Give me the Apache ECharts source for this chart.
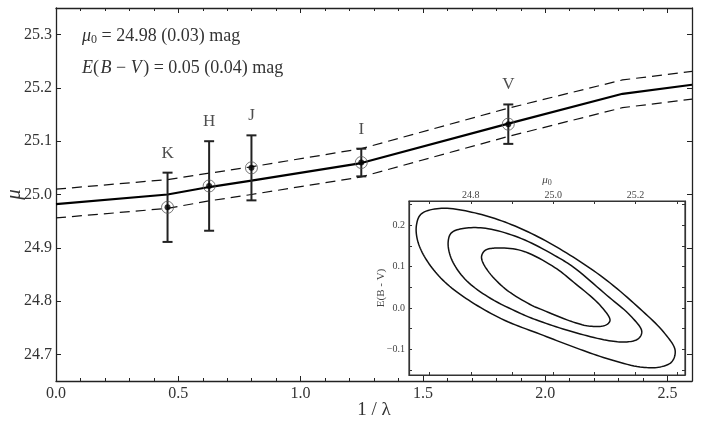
<!DOCTYPE html>
<html>
<head>
<meta charset="utf-8">
<script src="https://cdn.jsdelivr.net/npm/echarts@6/dist/echarts.min.js"></script>
<style>html,body{margin:0;padding:0;background:#fff}#c{width:706px;height:424px}</style>
</head>
<body>
<div id="c"></div>
<script>
// ---- data ----
var bands = ['K', 'H', 'J', 'I', 'V'];
var invLambda = [0.456, 0.626, 0.799, 1.248, 1.849];
var mu = [24.976, 25.016, 25.050, 25.060, 25.132];
var muErr = [0.065, 0.084, 0.061, 0.026, 0.037];

var fitX = [0, 0.456, 0.626, 0.799, 1.248, 1.849, 2.316, 2.6];
var fitMu = [24.982, 25.000, 25.014, 25.026, 25.059, 25.133, 25.189, 25.206];
var fitUpper = [25.010, 25.028, 25.040, 25.052, 25.086, 25.162, 25.215, 25.231];
var fitLower = [24.956, 24.974, 24.988, 25.000, 25.033, 25.109, 25.163, 25.179];

var yTicks = [24.7, 24.8, 24.9, 25.0, 25.1, 25.2, 25.3];

// inset contour curves (mu0, E(B-V)), read around each closed curve
var contourOuter = [[24.668,0.200],[24.680,0.228],[24.729,0.2415],[24.802,0.232],[24.883,0.208],[24.964,0.172],[25.049,0.123],[25.130,0.067],[25.211,-0.002],[25.268,-0.058],[25.296,-0.102],[25.288,-0.130],[25.260,-0.1425],[25.211,-0.1425],[25.130,-0.122],[25.049,-0.094],[24.968,-0.063],[24.883,-0.030],[24.802,0.0145],[24.737,0.063],[24.696,0.111],[24.672,0.159]];
var contourMiddle = [[24.745,0.159],[24.753,0.182],[24.785,0.193],[24.842,0.192],[24.923,0.168],[25.004,0.127],[25.049,0.099],[25.130,0.031],[25.187,-0.018],[25.215,-0.056],[25.207,-0.074],[25.179,-0.082],[25.130,-0.078],[25.049,-0.058],[24.968,-0.032],[24.923,-0.014],[24.842,0.027],[24.785,0.071],[24.753,0.119]];
var contourInner = [[24.826,0.123],[24.834,0.139],[24.858,0.145],[24.923,0.139],[25.004,0.098],[25.049,0.063],[25.114,0.0065],[25.138,-0.030],[25.126,-0.042],[25.090,-0.044],[25.049,-0.034],[24.968,-0.002],[24.948,0.0065],[24.883,0.047],[24.838,0.095]];
var insetXTicks = [24.7, 24.8, 24.9, 25.0, 25.1, 25.2, 25.3];
var insetXLabels = [24.8, 25.0, 25.2];
var insetYTicks = [-0.15, -0.1, -0.05, 0, 0.05, 0.1, 0.15, 0.2, 0.25];
var insetYLabels = [-0.1, 0, 0.1, 0.2];

// ---- chart ----
var FONT = '"Liberation Serif", "DejaVu Serif", serif';
var AX = '#222';
function pair(xs, ys) { return xs.map(function (x, i) { return [x, ys[i]]; }); }
function fmtSigned(v) { var s = Math.abs(v).toFixed(1); return v < -1e-9 ? '\u2212' + s : s; }

var errData = invLambda.map(function (x, i) { return [x, mu[i] - muErr[i], mu[i] + muErr[i]]; });
var labelData = invLambda.map(function (x, i) { return [x, mu[i] + muErr[i]]; });

// closed centripetal Catmull-Rom through pixel points (drawing only)
function closedSpline(P, steps) {
  var n = P.length, out = [];
  function d(a, b) { return Math.pow(Math.hypot(b[0] - a[0], b[1] - a[1]), 0.5) || 1e-4; }
  function lerp(a, b, ta, tb, t) { var u = (t - ta) / (tb - ta); return [a[0] + (b[0] - a[0]) * u, a[1] + (b[1] - a[1]) * u]; }
  for (var i = 0; i < n; i++) {
    var p0 = P[(i - 1 + n) % n], p1 = P[i], p2 = P[(i + 1) % n], p3 = P[(i + 2) % n];
    var t0 = 0, t1 = t0 + d(p0, p1), t2 = t1 + d(p1, p2), t3 = t2 + d(p2, p3);
    for (var k = 0; k < steps; k++) {
      var t = t1 + (t2 - t1) * k / steps;
      var A1 = lerp(p0, p1, t0, t1, t), A2 = lerp(p1, p2, t1, t2, t), A3 = lerp(p2, p3, t2, t3, t);
      var B1 = lerp(A1, A2, t0, t2, t), B2 = lerp(A2, A3, t1, t3, t);
      out.push(lerp(B1, B2, t1, t2, t));
    }
  }
  out.push(out[0]);
  return out;
}
function contourSeries(pts) {
  return {
    type: 'custom', xAxisIndex: 2, yAxisIndex: 2, data: pts, z: 9, silent: true,
    renderItem: function (params, api) {
      if (params.dataIndex !== 0) return;
      var px = pts.map(function (p) { return api.coord(p); });
      return { type: 'polyline', shape: { points: closedSpline(px, 10) },
        style: { stroke: '#111', lineWidth: 1.5, fill: null } };
    }
  };
}

function mainXAxis(pos, showLabel) {
  return {
    type: 'value', gridIndex: 0, position: pos, min: 0, max: 2.6, interval: 0.5,
    axisLine: { show: true, onZero: false, lineStyle: { color: AX, width: 1.3 } },
    axisTick: { show: true, inside: true, length: 5, lineStyle: { color: AX, width: 1 } },
    minorTick: { show: true, splitNumber: 5, length: 3, lineStyle: { color: AX, width: 1 } },
    splitLine: { show: false }, minorSplitLine: { show: false },
    axisLabel: { show: showLabel, showMaxLabel: false, formatter: function (v) { return v.toFixed(1); }, fontFamily: FONT, fontSize: 16, color: '#333', margin: 5 },
    name: showLabel ? '1 / \u03bb' : '', nameLocation: 'middle', nameGap: 20, nameMoveOverlap: false,
    nameTextStyle: { fontFamily: FONT, fontSize: 19, color: '#333' }
  };
}
function mainYAxis(pos, showLabel) {
  return {
    type: 'value', gridIndex: 0, position: pos, min: 24.65, max: 25.35,
    axisLine: { show: true, onZero: false, lineStyle: { color: AX, width: 1.3 } },
    axisTick: { show: true, inside: true, length: 5, customValues: yTicks, lineStyle: { color: AX, width: 1 } },
    splitLine: { show: false },
    axisLabel: { show: showLabel, customValues: yTicks, formatter: function (v) { return v.toFixed(1); }, fontFamily: FONT, fontSize: 16, color: '#333', margin: 4 },
    name: showLabel ? '\u03bc' : '', nameLocation: 'middle', nameGap: 31, nameRotate: 90, nameMoveOverlap: false,
    nameTextStyle: { fontFamily: FONT, fontSize: 21, fontStyle: 'italic', color: '#333' }
  };
}
function insetXAxis(pos, showLabel) {
  return {
    type: 'value', gridIndex: 1, position: pos, min: 24.65, max: 25.32, z: 8,
    axisLine: { show: true, onZero: false, lineStyle: { color: '#333', width: 1.2 } },
    axisTick: { show: true, inside: true, length: 3, customValues: insetXTicks, lineStyle: { color: '#333', width: 1 } },
    splitLine: { show: false },
    axisLabel: { show: showLabel, customValues: insetXLabels, formatter: function (v) { return v.toFixed(1); }, fontFamily: FONT, fontSize: 10, color: '#444', margin: 1 },
    name: showLabel ? '{i|\u03bc}{s|0}' : '', nameLocation: 'middle', nameGap: 14, nameMoveOverlap: false,
    nameTextStyle: { fontFamily: FONT, fontSize: 11, color: '#444',
      rich: { i: { fontFamily: FONT, fontSize: 11, fontStyle: 'italic', color: '#444' }, s: { fontFamily: FONT, fontSize: 8, color: '#444', padding: [5, 0, 0, 0] } } }
  };
}
function insetYAxis(pos, showLabel) {
  return {
    type: 'value', gridIndex: 1, position: pos, min: -0.162, max: 0.259, z: 8,
    axisLine: { show: true, onZero: false, lineStyle: { color: '#333', width: 1.2 } },
    axisTick: { show: true, inside: true, length: 3, customValues: insetYTicks, lineStyle: { color: '#333', width: 1 } },
    splitLine: { show: false },
    axisLabel: { show: showLabel, customValues: insetYLabels, formatter: fmtSigned, fontFamily: FONT, fontSize: 10, color: '#444', margin: 4 },
    name: showLabel ? 'E(B - V)' : '', nameLocation: 'middle', nameGap: 22, nameRotate: 90, nameMoveOverlap: false,
    nameTextStyle: { fontFamily: FONT, fontSize: 11, color: '#444' }
  };
}

var option = {
  backgroundColor: '#fff',
  animation: false,
  grid: [
    { left: 56, top: 8, right: 14, bottom: 43, outerBoundsMode: 'none', containLabel: false },
    { left: 409, top: 201, right: 21, bottom: 49, outerBoundsMode: 'none', containLabel: false, show: true, backgroundColor: '#fff', borderColor: '#333', borderWidth: 1.2, z: 6 }
  ],
  xAxis: [mainXAxis('bottom', true), mainXAxis('top', false), insetXAxis('bottom', false), insetXAxis('top', true)],
  yAxis: [mainYAxis('left', true), mainYAxis('right', false), insetYAxis('left', true), insetYAxis('right', false)],
  graphic: [
    { type: 'text', left: 82, top: 27, z: 10,
      style: { text: '{i|\u03bc}{s|0} = 24.98 (0.03) mag', fill: '#333', font: '18px ' + FONT,
        rich: { i: { fontFamily: FONT, fontSize: 18, fontStyle: 'italic', fill: '#333' }, s: { fontFamily: FONT, fontSize: 12, fill: '#333', padding: [7, 0, 0, 0] } } } },
    { type: 'text', left: 82, top: 59, z: 10,
      style: { text: '{i|E}(\u200a{i|B} \u2212 {i|V}\u200a) = 0.05 (0.04) mag', fill: '#333', font: '18px ' + FONT,
        rich: { i: { fontFamily: FONT, fontSize: 18, fontStyle: 'italic', fill: '#333' } } } }
  ],
  series: [
    { type: 'line', xAxisIndex: 0, yAxisIndex: 0, data: pair(fitX, fitUpper), showSymbol: false, z: 2,
      lineStyle: { color: '#111', width: 1.2, type: [10, 6] } },
    { type: 'line', xAxisIndex: 0, yAxisIndex: 0, data: pair(fitX, fitLower), showSymbol: false, z: 2,
      lineStyle: { color: '#111', width: 1.2, type: [10, 6] } },
    { type: 'line', xAxisIndex: 0, yAxisIndex: 0, data: pair(fitX, fitMu), showSymbol: false, z: 3,
      lineStyle: { color: '#000', width: 2.2 } },
    { type: 'custom', xAxisIndex: 0, yAxisIndex: 0, data: errData, z: 4,
      renderItem: function (params, api) {
        var x = api.value(0);
        var lo = api.coord([x, api.value(1)]);
        var hi = api.coord([x, api.value(2)]);
        var hw = 5;
        var st = { stroke: '#222', lineWidth: 2 };
        return { type: 'group', children: [
          { type: 'line', shape: { x1: lo[0], y1: lo[1], x2: hi[0], y2: hi[1] }, style: st },
          { type: 'line', shape: { x1: lo[0] - hw, y1: lo[1], x2: lo[0] + hw, y2: lo[1] }, style: st },
          { type: 'line', shape: { x1: hi[0] - hw, y1: hi[1], x2: hi[0] + hw, y2: hi[1] }, style: st }
        ] };
      } },
    { type: 'scatter', xAxisIndex: 0, yAxisIndex: 0, data: pair(invLambda, mu), symbol: 'circle', symbolSize: 12, z: 5,
      itemStyle: { color: 'rgba(255,255,255,0)', borderColor: '#555', borderWidth: 1 } },
    { type: 'scatter', xAxisIndex: 0, yAxisIndex: 0, data: pair(invLambda, mu), symbol: 'circle', symbolSize: 6, z: 6,
      itemStyle: { color: '#000' } },
    { type: 'scatter', xAxisIndex: 0, yAxisIndex: 0, data: labelData, symbolSize: 0, z: 6,
      label: { show: true, position: 'top', distance: 11, formatter: function (p) { return bands[p.dataIndex]; },
        fontFamily: FONT, fontSize: 17, color: '#222' } },
    contourSeries(contourOuter),
    contourSeries(contourMiddle),
    contourSeries(contourInner)
  ]
};
var chart = echarts.init(document.getElementById('c'), null, { renderer: 'canvas' });
chart.setOption(option);
</script>
</body>
</html>
